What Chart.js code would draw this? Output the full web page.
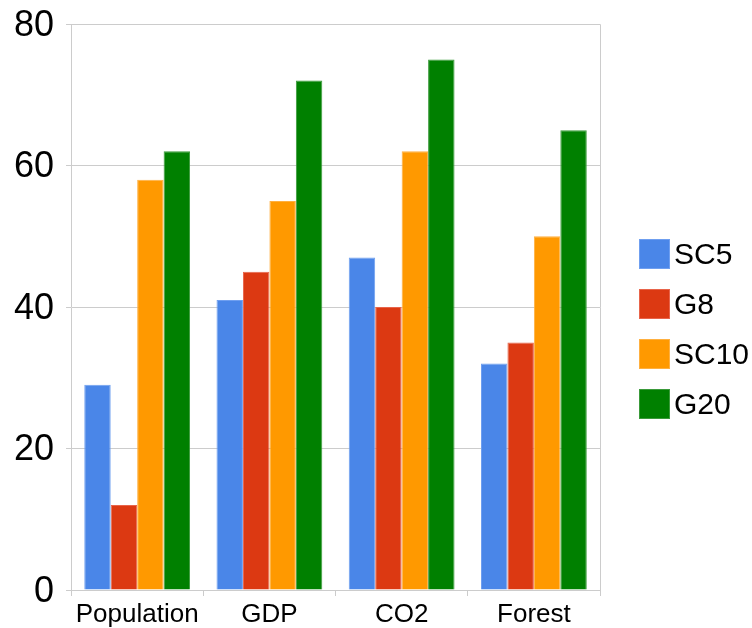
<!DOCTYPE html>
<html>
<head>
<meta charset="utf-8">
<script src="https://cdn.jsdelivr.net/npm/chart.js@4"></script>
<style>
  html, body { margin: 0; padding: 0; background: #fff; }
  #wrap { position: relative; width: 752px; height: 628px; }
  #legend { position: absolute; left: 639px; top: 239px; font-family: "Liberation Sans", Arial, sans-serif; font-size: 30px; color: #000; }
  .item { display: flex; align-items: center; height: 30px; margin-bottom: 20px; }
  .swatch { width: 31px; height: 30px; margin-right: 4px; box-sizing: border-box; }
</style>
</head>
<body>
<div id="wrap">
  <canvas id="chart" width="752" height="628"></canvas>
  <div id="legend"></div>
</div>
<script>
const categories = ["Population", "GDP", "CO2", "Forest"];
const seriesNames = ["SC5", "G8", "SC10", "G20"];
const sc5 = [29, 41, 47, 32];
const g8 = [12, 45, 40, 35];
const sc10 = [58, 55, 62, 50];
const g20 = [62, 72, 75, 65];
const yTicks = [0, 20, 40, 60, 80];

const fills = ["#4a86e8", "#dc3912", "#ff9900", "#008000"];
const edges = ["#6f9ff0", "#e8644a", "#ffb040", "#3a9a3a"];
const seriesValues = [sc5, g8, sc10, g20];

const FONT = "'Liberation Sans', Arial, sans-serif";
Chart.defaults.color = "#000";
Chart.defaults.font.family = FONT;

// frame around the plotting area
const framePlugin = {
  id: "frame",
  afterDatasetsDraw(chart) {
    const { ctx, chartArea: a } = chart;
    ctx.save();
    ctx.strokeStyle = "#cccccc";
    ctx.lineWidth = 1;
    ctx.beginPath();
    ctx.moveTo(a.left, a.top + 0.5);
    ctx.lineTo(a.right + 0.5, a.top + 0.5);
    ctx.lineTo(a.right + 0.5, a.bottom);
    ctx.stroke();
    ctx.restore();
  }
};

new Chart(document.getElementById("chart"), {
  type: "bar",
  data: {
    labels: categories,
    datasets: seriesNames.map((name, i) => ({
      label: name,
      data: seriesValues[i],
      backgroundColor: fills[i],
      borderColor: edges[i],
      borderWidth: 1,
      categoryPercentage: 0.8,
      barPercentage: 1.0
    }))
  },
  options: {
    responsive: false,
    animation: false,
    layout: { padding: { left: 2, right: 152, top: 24, bottom: 0 } },
    plugins: { legend: { display: false }, tooltip: { enabled: false } },
    scales: {
      x: {
        afterFit(scale) { scale.height = 38; },
        grid: { drawOnChartArea: false, drawTicks: true, tickLength: 6, color: "#cccccc", offset: true },
        border: { color: "#cccccc" },
        ticks: { font: { size: 26, lineHeight: 1.0 }, padding: 6, color: "#000" }
      },
      y: {
        min: 0,
        max: 80,
        afterBuildTicks(scale) { scale.ticks = yTicks.map(v => ({ value: v })); },
        grid: { color: "#cccccc", tickLength: 5 },
        border: { color: "#cccccc" },
        ticks: { font: { size: 36, lineHeight: 0.5 }, padding: 12, labelOffset: 2, color: "#000" }
      }
    }
  },
  plugins: [framePlugin]
});

// legend
const legend = document.getElementById("legend");
seriesNames.forEach((name, i) => {
  const item = document.createElement("div");
  item.className = "item";
  const sw = document.createElement("span");
  sw.className = "swatch";
  sw.style.background = fills[i];
  sw.style.border = "1px solid " + edges[i];
  const tx = document.createElement("span");
  tx.textContent = name;
  item.appendChild(sw);
  item.appendChild(tx);
  legend.appendChild(item);
});
</script>
</body>
</html>
